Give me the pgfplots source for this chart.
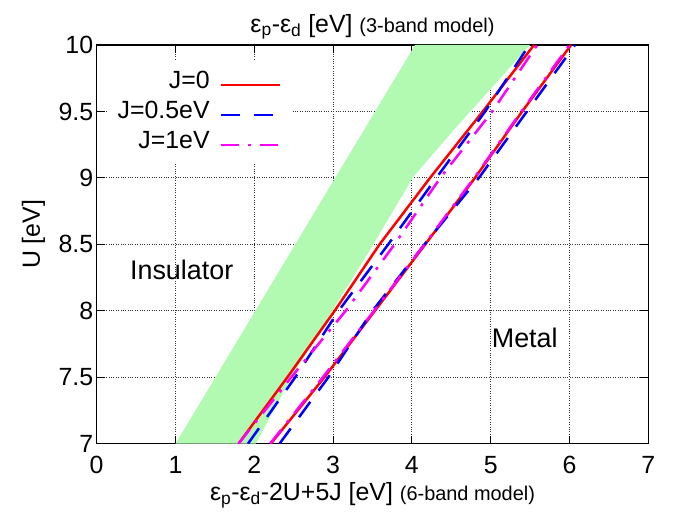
\documentclass[border=0pt]{standalone}
\usepackage{fontspec}
\setmainfont{Liberation Sans}
\usepackage{pgfplots}
\pgfplotsset{compat=1.18}
\usetikzlibrary{calc}
\definecolor{bandgreen}{rgb}{0.70,0.98,0.70}
\definecolor{pured}{rgb}{1,0,0}
\definecolor{purblue}{rgb}{0,0,1}
\definecolor{purmag}{rgb}{1,0,1}
\begin{document}
\begin{tikzpicture}[font=\fontsize{25}{30}\selectfont]
\begin{axis}[
  scale only axis, width=552bp, height=399bp,
  xmin=0, xmax=7, ymin=7, ymax=10,
  xtick={0,1,2,3,4,5,6,7}, ytick={7,7.5,8,8.5,9,9.5,10},
  grid=major, grid style={dotted, black!80, line width=0.8bp},
  tick align=inside, major tick length=8bp,
  axis line style={line width=1.2bp},
  every tick/.style={black, line width=1bp},
  /pgf/number format/assume math mode=true,
  xticklabel style={yshift=-9bp},
  xlabel={ε\textsubscript{p}-ε\textsubscript{d}-2U+5J [eV] {\fontsize{20}{24}\selectfont (6-band model)}},
  xlabel style={at={(axis description cs:0.5,-0.143)}, anchor=base},
  ylabel={U [eV]},
  ylabel style={at={(axis description cs:-0.103,0.525)}, anchor=base, rotate=0},
  title={ε\textsubscript{p}-ε\textsubscript{d} [eV] {\fontsize{20}{24}\selectfont (3-band model)}},
  title style={at={(axis description cs:0.5,1.0175)}, anchor=base},
  legend style={at={(axis cs:2.47,9.885)}, anchor=north east, draw=none, fill=white,
    inner xsep=10bp, inner ysep=10bp, row sep=7bp, column sep=10bp,
    nodes={inner sep=0pt, text height=18bp, text depth=5bp}},
  legend cell align=right, legend plot pos=right,
  legend image code/.code={\draw[#1] (0bp,-3.3bp) -- (59bp,-3.3bp);},
]
\addplot[fill=bandgreen, draw=none, forget plot] coordinates {
  (1.0,7) (4.04,10) (5.50,10) (4.56,9.38) (4.02,9.01) (3.47,8.46) (2.47,7.5) (2.02,7)
} -- cycle;

\addplot[pured, line width=2.5bp] coordinates {
  (1.80,7) (2.42,7.5) (3.02,8) (3.59,8.5) (4.23,9) (4.90,9.5) (5.55,10)
};
\addlegendentry{J=0}
\addplot[purblue, line width=2.5bp, dash pattern=on 19bp off 14bp] coordinates {
  (1.92,7) (2.52,7.5) (3.07,8) (3.70,8.5) (4.31,9) (4.93,9.5) (5.49,10)
};
\addlegendentry{J=0.5eV}
\addplot[purmag, line width=2.5bp, dash pattern=on 18bp off 9bp on 3bp off 9bp] coordinates {
  (1.80,7) (2.47,7.5) (3.16,8) (3.78,8.5) (4.36,9) (5.02,9.5) (5.59,10)
};
\addlegendentry{J=1eV}

\addplot[pured, line width=2.5bp, forget plot] coordinates {
  (2.21,7) (2.89,7.5) (3.53,8) (4.17,8.5) (4.80,9) (5.40,9.5) (6.02,10)
};
\addplot[purblue, line width=2.5bp, dash pattern=on 19bp off 14bp, forget plot] coordinates {
  (2.32,7) (2.94,7.5) (3.50,8) (4.16,8.5) (4.85,9) (5.46,9.5) (6.07,10)
};
\addplot[purmag, line width=2.5bp, dash pattern=on 18bp off 9bp on 3bp off 9bp, forget plot] coordinates {
  (2.20,7) (2.87,7.5) (3.52,8) (4.16,8.5) (4.79,9) (5.39,9.5) (6.00,10)
};

\node[anchor=base west, font=\fontsize{27}{32}\selectfont] at (axis cs:0.38,8.238) {Insulator};
\node[anchor=base west, font=\fontsize{27}{32}\selectfont] at (axis cs:4.97,7.727) {Metal};

\coordinate (sw) at (rel axis cs:0,0);
\coordinate (ne) at (rel axis cs:1,1);
\end{axis}
\pgfresetboundingbox
\path[use as bounding box] ($(sw)+(-96.7bp,-73bp)$) rectangle ($(ne)+(29.7bp,45bp)$);
\end{tikzpicture}
\end{document}
